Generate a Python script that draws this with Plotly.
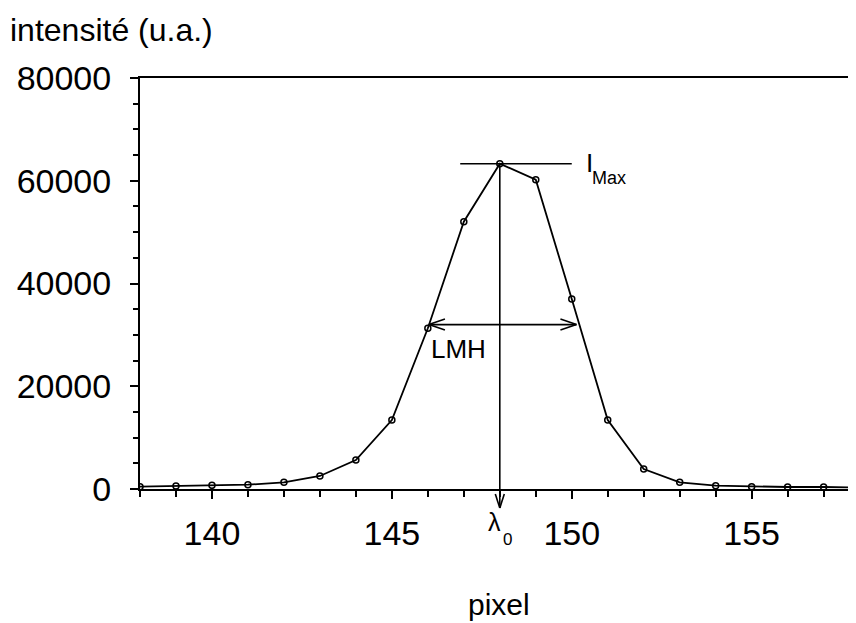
import plotly.graph_objects as go

# ---- data ----
pixels = [138, 139, 140, 141, 142, 143, 144, 145, 146, 147, 148,
          149, 150, 151, 152, 153, 154, 155, 156, 157, 158]
intensity = [450, 580, 710, 840, 1300, 2530, 5640, 13430, 31280, 52030, 63320,
             60200, 36980, 13430, 3890, 1300, 650, 450, 390, 390, 300]

x_range = [138, 157.9]
y_range = [0, 80000]
x_major_ticks = [140, 145, 150, 155]

# annotation geometry (data units)
lambda0 = 148.0
i_max = 63320
imax_line_x = [146.9, 150.0]
lmh_x = [146.03, 150.13]
lmh_y = 32000

FONT = "Liberation Sans, Arial, sans-serif"
BLACK = "#000000"

fig = go.Figure()
fig.add_trace(go.Scatter(
    x=pixels, y=intensity, mode="lines+markers",
    line=dict(color=BLACK, width=1.8),
    marker=dict(symbol="circle-open", size=6, color=BLACK, line=dict(width=1.5, color=BLACK)),
    showlegend=False, hoverinfo="skip",
))

shapes = []
# I_Max horizontal line
shapes.append(dict(type="line", xref="x", yref="y",
                   x0=imax_line_x[0], x1=imax_line_x[1], y0=i_max, y1=i_max,
                   line=dict(color=BLACK, width=1.6)))
# lambda0 vertical line (inside the plot)
shapes.append(dict(type="line", xref="x", yref="y",
                   x0=lambda0, x1=lambda0, y0=i_max, y1=0,
                   line=dict(color=BLACK, width=1.6)))
# extension below the axis + arrow head
shapes.append(dict(type="line", xref="x", yref="paper",
                   x0=lambda0, x1=lambda0, ysizemode="pixel", yanchor=0, y0=0, y1=-19,
                   line=dict(color=BLACK, width=1.6)))
for side in (-1, 1):
    shapes.append(dict(type="line", xref="x", yref="paper",
                       xsizemode="pixel", xanchor=lambda0, x0=0, x1=side * 4.5,
                       ysizemode="pixel", yanchor=0, y0=-19, y1=-5,
                       line=dict(color=BLACK, width=1.6)))
# LMH double arrow
shapes.append(dict(type="line", xref="x", yref="y",
                   x0=lmh_x[0], x1=lmh_x[1], y0=lmh_y, y1=lmh_y,
                   line=dict(color=BLACK, width=1.6)))
for tip, direction in ((lmh_x[0], 1), (lmh_x[1], -1)):
    for side in (-1, 1):
        shapes.append(dict(type="line", xref="x", yref="y",
                           xsizemode="pixel", xanchor=tip, x0=0, x1=direction * 16,
                           ysizemode="pixel", yanchor=lmh_y, y0=0, y1=side * 5.5,
                           line=dict(color=BLACK, width=1.6)))

annotations = [
    dict(text="intensité (u.a.)", xref="paper", yref="paper", x=-0.1844, y=1.1168,
         xanchor="left", yanchor="middle", showarrow=False,
         font=dict(family=FONT, size=32, color=BLACK)),
    dict(text="pixel", xref="paper", yref="paper", x=0.5014, y=-0.282,
         xanchor="center", yanchor="middle", showarrow=False,
         font=dict(family=FONT, size=30, color=BLACK)),
    dict(text="LMH", xref="x", yref="y", x=146.02, y=27210,
         xanchor="left", yanchor="middle", showarrow=False,
         font=dict(family=FONT, size=26, color=BLACK)),
    dict(text="I", xref="x", yref="y", x=150.33, y=63550,
         xanchor="left", yanchor="middle", showarrow=False,
         font=dict(family=FONT, size=26, color=BLACK)),
    dict(text="Max", xref="x", yref="y", x=150.52, y=60530,
         xanchor="left", yanchor="middle", showarrow=False,
         font=dict(family=FONT, size=18, color=BLACK)),
    dict(text="λ", xref="x", yref="paper", x=147.85, y=-0.081,
         xanchor="center", yanchor="middle", showarrow=False,
         font=dict(family=FONT, size=25, color=BLACK)),
    dict(text="0", xref="x", yref="paper", x=148.21, y=-0.1217,
         xanchor="center", yanchor="middle", showarrow=False,
         font=dict(family=FONT, size=17, color=BLACK)),
]

# the page body adds an 8 px margin; the figure is sized to fit the window
fig.update_layout(
    width=848, height=615,
    margin=dict(l=132, r=0, t=70, b=134, pad=0),
    paper_bgcolor="white", plot_bgcolor="white",
    font=dict(family=FONT, color=BLACK),
    shapes=shapes, annotations=annotations,
    xaxis=dict(range=x_range, tickvals=x_major_ticks, ticks="outside", ticklen=8,
               tickwidth=1.8, tickcolor=BLACK, showline=True, linewidth=2,
               linecolor=BLACK, mirror=True, showgrid=False, zeroline=False,
               tickfont=dict(family=FONT, size=34, color=BLACK),
               ticklabelstandoff=5,
               minor=dict(dtick=1, tick0=138, ticks="outside", ticklen=6,
                          tickwidth=1.8, tickcolor=BLACK, showgrid=False)),
    yaxis=dict(range=y_range, dtick=20000, tick0=0, tickformat="d", ticks="outside",
               ticklen=8, tickwidth=1.8, tickcolor=BLACK, showline=True, linewidth=2,
               linecolor=BLACK, mirror=False, showgrid=False, zeroline=False,
               tickfont=dict(family=FONT, size=34, color=BLACK),
               ticklabelstandoff=12,
               minor=dict(dtick=5000, ticks="outside", ticklen=5, tickwidth=1.8,
                          tickcolor=BLACK, showgrid=False)),
)

fig.write_html("out.html")
